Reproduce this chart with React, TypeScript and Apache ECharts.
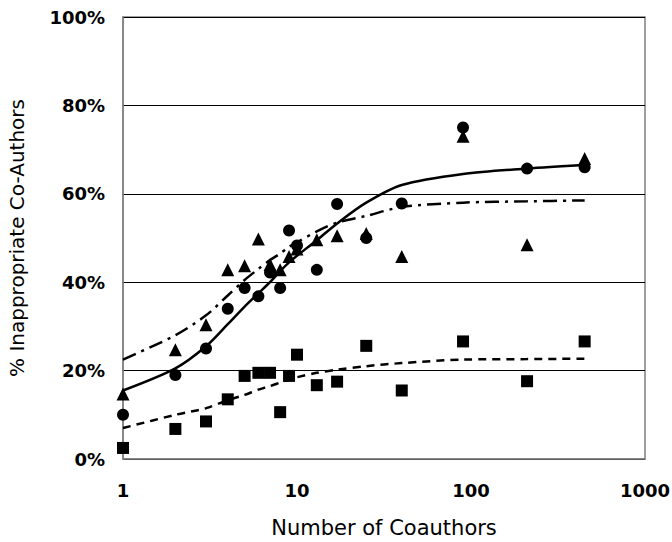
import React, { useEffect, useRef } from "react";
import * as echarts from "echarts";

const coauthors = [1, 2, 3, 4, 5, 6, 7, 8, 9, 10, 13, 17, 25, 40, 90, 210, 450];
const circleVals = [10, 19, 25, 34, 38.7, 36.8, 42.2, 38.7, 51.7, 48.3, 42.8, 57.7, 50, 57.8, 75, 65.7, 66];
const triangleVals = [14.7, 24.7, 30.4, 42.8, 43.7, 49.8, 44, 42.8, 45.8, 47.5, 49.6, 50.5, 51, 45.8, 73, 48.5, 68];
const squareVals = [2.5, 6.8, 8.5, 13.5, 18.8, 19.5, 19.5, 10.6, 18.8, 23.6, 16.7, 17.5, 25.6, 15.5, 26.6, 17.6, 26.6];

const circleFit = [15.5, 20.5, 25.5, 30.5, 34.5, 37.5, 40, 42.5, 44.5, 46, 49.5, 53.3, 58, 62, 64.5, 65.7, 66.5];
const triangleFit = [22.5, 28, 32.5, 37, 40.5, 43, 45, 46.5, 48, 49, 51.5, 53.5, 55, 57, 58, 58.3, 58.5];
const squareFit = [7, 10, 11.5, 13.3, 14.5, 15.7, 16.5, 17.3, 18, 18.5, 19.5, 20.2, 21, 21.7, 22.5, 22.6, 22.7];

const xTicks = [1, 10, 100, 1000];
const yTicks = [0, 20, 40, 60, 80, 100];

const pair = (ys: number[]) => coauthors.map((x, i) => [x, ys[i]]);

export default function App() {
  const ref = useRef<HTMLDivElement>(null);
  useEffect(() => {
    const chart = echarts.init(ref.current!, undefined, { renderer: "svg" });
    const lab = "'DejaVu Sans', sans-serif";
    chart.setOption({
      animation: false,
      backgroundColor: "#fff",
      grid: {
        left: 123,
        top: 17,
        right: 27,
        bottom: 83,
        show: true,
        borderColor: "#808080",
        borderWidth: 1.5,
        containLabel: false,
        outerBoundsMode: "none",
      },
      xAxis: {
        type: "log",
        logBase: 10,
        min: xTicks[0],
        max: xTicks[xTicks.length - 1],
        axisLine: { show: true, lineStyle: { color: "#808080", width: 1.5 } },
        axisTick: { show: false },
        minorTick: { show: false },
        splitLine: { show: false },
        axisLabel: {
          color: "#000",
          fontFamily: lab,
          fontWeight: "bold",
          fontSize: 18,
          margin: 22,
          formatter: (v: number) => String(Math.round(v)),
        },
        name: "Number of Coauthors",
        nameLocation: "middle",
        nameGap: 58,
        nameTextStyle: { color: "#000", fontFamily: lab, fontSize: 21 },
      },
      yAxis: {
        type: "value",
        min: yTicks[0],
        max: yTicks[yTicks.length - 1],
        interval: 20,
        axisLine: { show: true, lineStyle: { color: "#808080", width: 1.5 } },
        axisTick: { show: false },
        splitLine: { show: true, lineStyle: { color: "#000", width: 1.2 } },
        axisLabel: {
          color: "#000",
          fontFamily: lab,
          fontWeight: "bold",
          fontSize: 18,
          margin: 18,
          formatter: "{value}%",
        },
        name: "% Inappropriate Co-Authors",
        nameLocation: "middle",
        nameGap: 96,
        nameTextStyle: { color: "#000", fontFamily: lab, fontSize: 20 },
      },
      series: [
        {
          type: "line",
          data: pair(circleFit),
          symbol: "none",
          smooth: 0.3,
          lineStyle: { color: "#000", width: 2.5, type: "solid" },
          z: 3,
        },
        {
          type: "line",
          data: pair(triangleFit),
          symbol: "none",
          smooth: 0.3,
          lineStyle: { color: "#000", width: 2.5, type: [14, 6, 3, 6] },
          z: 3,
        },
        {
          type: "line",
          data: pair(squareFit),
          symbol: "none",
          smooth: 0.3,
          lineStyle: { color: "#000", width: 2.5, type: [8, 6] },
          z: 3,
        },
        {
          type: "scatter",
          data: pair(circleVals),
          symbol: "circle",
          symbolSize: 12,
          itemStyle: { color: "#000", opacity: 1 },
          z: 4,
        },
        {
          type: "scatter",
          data: pair(triangleVals),
          symbol: "triangle",
          symbolSize: 13,
          itemStyle: { color: "#000", opacity: 1 },
          z: 4,
        },
        {
          type: "scatter",
          data: pair(squareVals),
          symbol: "rect",
          symbolSize: 12,
          itemStyle: { color: "#000", opacity: 1 },
          z: 4,
        },
      ],
    });
    return () => chart.dispose();
  }, []);
  return (
    <div
      ref={ref}
      style={{ position: "fixed", left: 0, top: 0, width: 672, height: 542 }}
    />
  );
}
